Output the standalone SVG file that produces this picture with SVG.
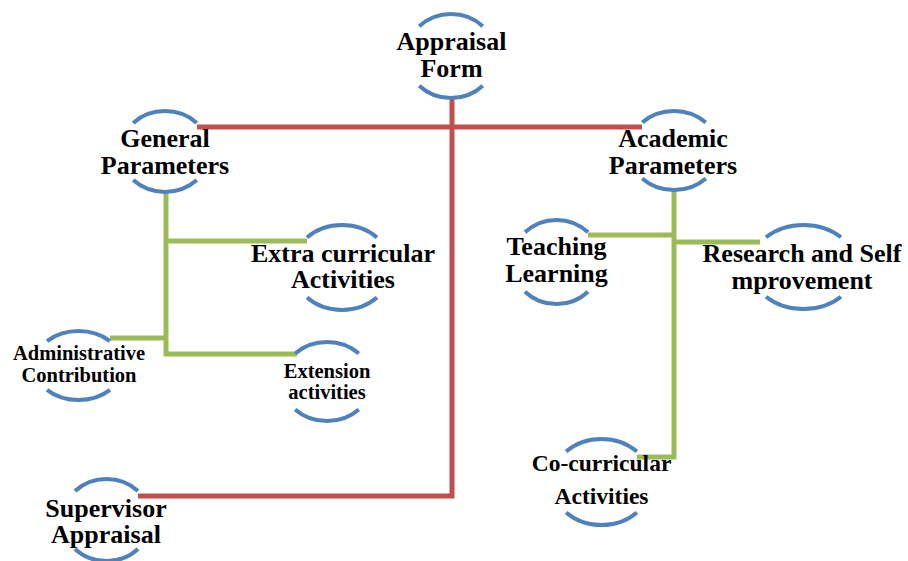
<svg xmlns="http://www.w3.org/2000/svg" width="908" height="561" viewBox="0 0 908 561">
<style>
.arc{fill:none;stroke:#4F81BD;stroke-width:4}
.red{fill:none;stroke:#C0504D;stroke-width:5}
.green{fill:none;stroke:#9BBB59;stroke-width:5}
text{font-family:"Liberation Serif","Times New Roman",serif;font-weight:bold;fill:#000;text-anchor:middle}
.l{font-size:26px}
.m{font-size:23.5px}
.s{font-size:20.5px}
</style>
<rect width="908" height="561" fill="#fff"/>
<g id="connectors">
<path class="red" d="M197,127 H642"/>
<path class="red" d="M452,97 V496 H138"/>
<path class="green" d="M166,192 V354 H297"/>
<path class="green" d="M166,241 H307"/>
<path class="green" d="M110,338 H166"/>
<path class="green" d="M674,190 V457 H637"/>
<path class="green" d="M588,235 H674"/>
<path class="green" d="M674,242 H760"/>
</g>
<g id="appraisal-form">
<path class="arc" d="M419.2,26.3 A45,42 0 0 1 482.8,26.3 M419.2,85.7 A45,42 0 0 0 482.8,85.7"/>
<text class="l" x="451.5" y="50">Appraisal</text>
<text class="l" x="451.5" y="77">Form</text>
</g>
<g id="general-parameters">
<path class="arc" d="M133.2,122.9 A45,40.5 0 0 1 196.8,122.9 M133.2,180.1 A45,40.5 0 0 0 196.8,180.1"/>
<text class="l" x="165" y="147">General</text>
<text class="l" x="165" y="174">Parameters</text>
</g>
<g id="academic-parameters">
<path class="arc" d="M642.2,122.6 A45,39.5 0 0 1 705.8,122.6 M642.2,178.4 A45,39.5 0 0 0 705.8,178.4"/>
<text class="l" x="673" y="147">Academic</text>
<text class="l" x="673" y="174">Parameters</text>
</g>
<g id="extra-curricular">
<path class="arc" d="M307,237.5 A49.5,42.5 0 0 1 377,237.5 M307,297.5 A49.5,42.5 0 0 0 377,297.5"/>
<text class="l" x="343" y="262">Extra curricular</text>
<text class="l" x="343" y="288">Activities</text>
</g>
<g id="administrative-contribution">
<path class="arc" d="M47,341.1 A44.5,34.5 0 0 1 110,341.1 M47,389.9 A44.5,34.5 0 0 0 110,389.9"/>
<text class="s" x="79" y="359.5">Administrative</text>
<text class="s" x="79" y="382">Contribution</text>
</g>
<g id="extension-activities">
<path class="arc" d="M295.2,353.6 A45,39.5 0 0 1 358.8,353.6 M295.2,409.4 A45,39.5 0 0 0 358.8,409.4"/>
<text class="s" x="327" y="377.5">Extension</text>
<text class="s" x="327" y="398.5">activities</text>
</g>
<g id="teaching-learning">
<path class="arc" d="M525,232.3 A44.5,42 0 0 1 588,232.3 M525,291.7 A44.5,42 0 0 0 588,291.7"/>
<text class="l" x="556.5" y="255">Teaching</text>
<text class="l" x="556.5" y="281.5">Learning</text>
</g>
<g id="research-self-improvement">
<path class="arc" d="M766,237.3 A53,42 0 0 1 841,237.3 M766,296.7 A53,42 0 0 0 841,296.7"/>
<text class="l" x="802" y="262">Research and Self</text>
<text class="l" x="802" y="289">mprovement</text>
</g>
<g id="co-curricular-activities">
<path class="arc" d="M566.1,451.6 A50,43 0 0 1 636.9,451.6 M566.1,512.4 A50,43 0 0 0 636.9,512.4"/>
<text class="m" x="601.5" y="471">Co-curricular</text>
<text class="m" x="601.5" y="504">Activities</text>
</g>
<g id="supervisor-appraisal">
<path class="arc" d="M75,491 A44.5,41 0 0 1 138,491 M75,549 A44.5,41 0 0 0 138,549"/>
<text class="l" x="106" y="517">Supervisor</text>
<text class="l" x="106" y="543">Appraisal</text>
</g>
</svg>
